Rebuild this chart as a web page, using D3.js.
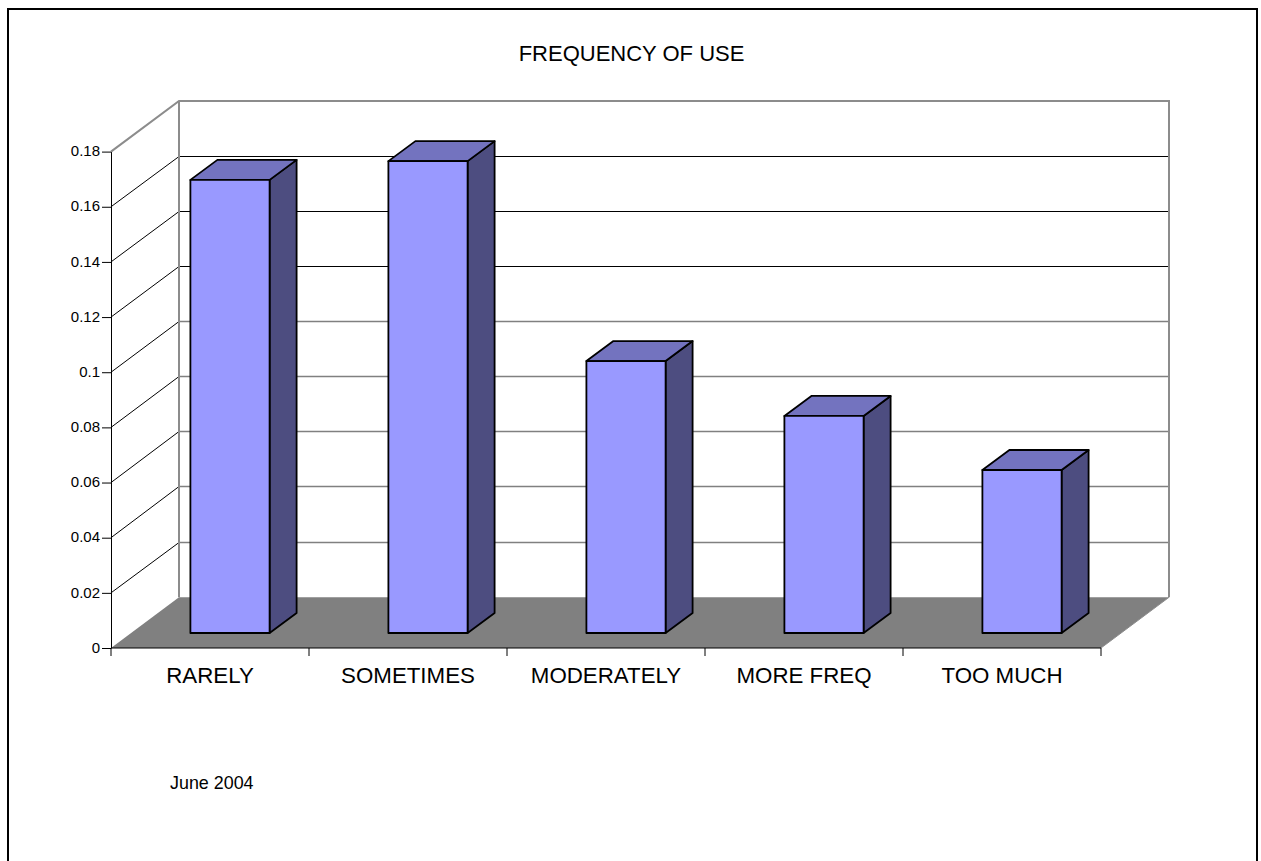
<!DOCTYPE html>
<html>
<head>
<meta charset="utf-8">
<title>Frequency of use</title>
<script src="https://cdn.jsdelivr.net/npm/d3@7"></script>
<style>
  html, body { margin: 0; padding: 0; background: #fff; }
  svg { display: block; }
  text { font-family: "Liberation Sans", Arial, sans-serif; fill: #000; }
</style>
</head>
<body>
<svg id="chart" width="1261" height="861"></svg>
<script>
// Survey results
const categories = ["RARELY", "SOMETIMES", "MODERATELY", "MORE FREQ", "TOO MUCH"];
const values = [0.1643, 0.1711, 0.0986, 0.0787, 0.0591];
const yTicks = [0, 0.02, 0.04, 0.06, 0.08, 0.1, 0.12, 0.14, 0.16, 0.18];
const chartTitle = "FREQUENCY OF USE";
const footnote = "June 2004";

const svg = d3.select("#chart");

// Oblique projection: the front plane maps through the scales, the back wall is offset by this depth
const wallDx = 68, wallDy = -50.7;
const barDx = 27, barDy = -20;      // depth of each column
const barShiftX = 20, barShiftY = -15; // column front sits slightly behind the front plane

const x = d3.scaleBand().domain(categories).range([111, 1101]).paddingInner(0.6).paddingOuter(0.3);
const y = d3.scaleLinear().domain([0, 0.18]).range([648, 151.6]);
const yMax = 0.18;

const pts = a => a.map(p => p.join(",")).join(" ");
const crisp = v => Math.floor(v) + 0.5;

// Outer frame, open along the bottom edge
svg.append("path")
  .attr("d", "M8 861V9H1257V861")
  .attr("fill", "none").attr("stroke", "#000").attr("stroke-width", 2);

const [x0, x1] = x.range();

// Floor
svg.append("polygon")
  .attr("points", pts([[x0, y(0)], [x1, y(0)], [x1 + wallDx, y(0) + wallDy], [x0 + wallDx, y(0) + wallDy]]))
  .attr("fill", "#808080");

// Gridlines on the side wall and the back wall
const grid = svg.append("g").attr("fill", "none");
yTicks.filter(t => t > 0 && t < yMax).forEach(t => {
  const yy = y(t);
  const back = crisp(yy + wallDy);
  grid.append("line")
    .attr("x1", x0).attr("y1", yy).attr("x2", x0 + wallDx).attr("y2", back)
    .attr("stroke", "#000").attr("stroke-width", 1);
  const upper = t > 0.11;
  grid.append("line")
    .attr("x1", x0 + wallDx).attr("y1", back).attr("x2", x1 + wallDx).attr("y2", back)
    .attr("stroke", upper ? "#000" : "#808080")
    .attr("stroke-width", upper ? 1 : 1.5);
});

// Wall outline
svg.append("path")
  .attr("d", `M${x0} ${y(yMax)}L${x0 + wallDx} ${y(yMax) + wallDy}H${x1 + wallDx}V${y(0) + wallDy}`)
  .attr("fill", "none").attr("stroke", "#8c8c8c").attr("stroke-width", 2);
svg.append("line")
  .attr("x1", x0 + wallDx).attr("y1", y(yMax) + wallDy)
  .attr("x2", x0 + wallDx).attr("y2", y(0) + wallDy)
  .attr("stroke", "#8c8c8c").attr("stroke-width", 2);
svg.append("line")
  .attr("x1", x1).attr("y1", y(0))
  .attr("x2", x1 + wallDx).attr("y2", y(0) + wallDy)
  .attr("stroke", "#8c8c8c").attr("stroke-width", 1);

// Axes
const yAxis = svg.append("g")
  .attr("transform", `translate(${x0},0)`)
  .call(d3.axisLeft(y).tickValues(yTicks).tickFormat(d3.format("~g")).tickSize(9).tickSizeOuter(0));
yAxis.selectAll("text").attr("font-size", 15).attr("x", -11).attr("dy", "0.28em");

const xAxis = svg.append("g").attr("transform", `translate(0,${y(0)})`);
const boundaries = categories.map(c => x(c) - x.step() * 0.3).concat([x1]);
xAxis.append("line").attr("x1", x0).attr("x2", x1).attr("stroke", "#000");
xAxis.selectAll("line.tick").data(boundaries).join("line")
  .attr("class", "tick")
  .attr("x1", d => d).attr("x2", d => d).attr("y1", 0).attr("y2", 8)
  .attr("stroke", "#000");
xAxis.selectAll("text").data(categories).join("text")
  .attr("x", c => x(c) + x.bandwidth() / 2)
  .attr("y", 35)
  .attr("text-anchor", "middle")
  .attr("font-size", 22.3)
  .text(c => c);

// Columns
const bars = svg.append("g").attr("stroke", "#000").attr("stroke-width", 1.8).attr("stroke-linejoin", "round");
categories.forEach((c, i) => {
  const l = x(c) + barShiftX, r = l + x.bandwidth();
  const b = y(0) + barShiftY, t = y(values[i]) + barShiftY;
  bars.append("polygon")
    .attr("points", pts([[r, t], [r + barDx, t + barDy], [r + barDx, b + barDy], [r, b]]))
    .attr("fill", "#4d4d80");
  bars.append("polygon")
    .attr("points", pts([[l, t], [l + barDx, t + barDy], [r + barDx, t + barDy], [r, t]]))
    .attr("fill", "#7373bf");
  bars.append("polygon")
    .attr("points", pts([[l, t], [r, t], [r, b], [l, b]]))
    .attr("fill", "#9999ff");
});

// Title and footnote
svg.append("text").attr("x", 631.5).attr("y", 60.5).attr("text-anchor", "middle")
  .attr("font-size", 22).text(chartTitle);
svg.append("text").attr("x", 170).attr("y", 789)
  .attr("font-size", 17.9).text(footnote);
</script>
</body>
</html>
